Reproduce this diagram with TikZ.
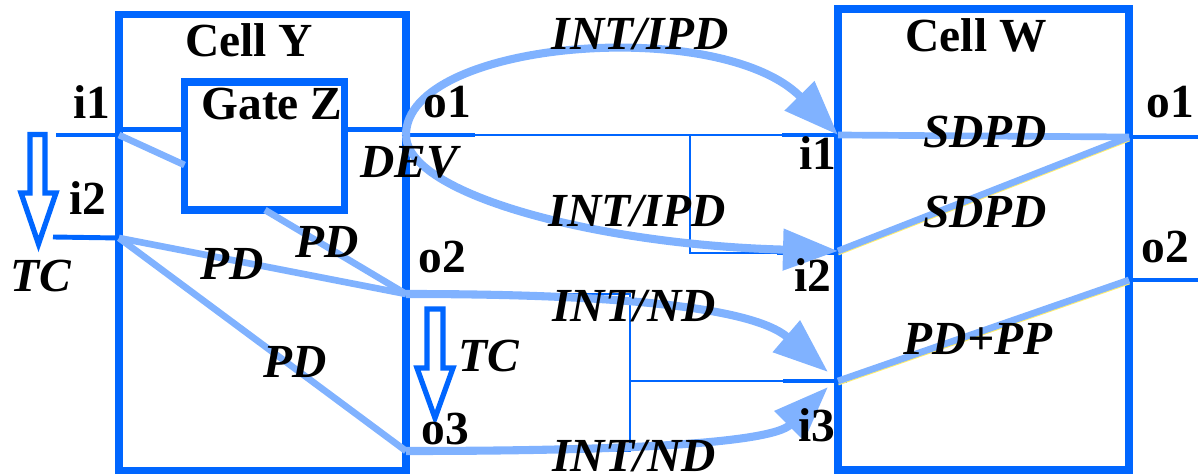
\documentclass[tikz,border=0pt]{standalone}
\usepackage{fontspec}
\setmainfont{Liberation Serif}
\usetikzlibrary{arrows.meta}

\definecolor{pinblue}{RGB}{0,102,255}
\definecolor{pathblue}{RGB}{128,178,255}
\definecolor{glint}{RGB}{255,238,110}

\tikzset{
	pin/.style={line width=1.4pt, color=pinblue},
	net/.style={line width=0.5pt, color=pinblue},
	arc/.style={line width=1.9pt, color=pathblue},
	timing/.style={line width=2.3pt, color=pathblue, -{Triangle[length=5.5mm,width=4mm]}},
	hollow/.style={line width=1.5pt, color=pinblue, fill=white},
	cellname/.style={font=\bfseries\fontsize{13.5}{16}\selectfont, inner sep=0pt, anchor=base},
	delay/.style={font=\bfseries\itshape\fontsize{13.5}{16}\selectfont, inner sep=0pt, anchor=base},
}

\begin{document}
\begin{tikzpicture}[x=1cm, y=-1cm]
	\useasboundingbox (0,0) rectangle (11.98,4.74);

	% pins and branch points
	\coordinate (Yi1) at (1.19,1.35);
	\coordinate (Yi2) at (1.19,2.38);
	\coordinate (Yo1) at (4.06,1.35);
	\coordinate (Yo2) at (4.06,2.94);
	\coordinate (Yo3) at (4.06,4.51);
	\coordinate (Zin) at (1.845,1.295);
	\coordinate (Zout) at (3.445,1.295);
	\coordinate (Zside) at (1.845,1.65);
	\coordinate (Zbot) at (2.65,2.10);
	\coordinate (Wi1) at (8.38,1.35);
	\coordinate (Wi2) at (8.38,2.51);
	\coordinate (Wi3) at (8.38,3.81);
	\coordinate (Wo1) at (11.29,1.37);
	\coordinate (Wo2) at (11.29,2.80);
	\coordinate (tipNDa) at (8.28,3.72);
	\coordinate (tipNDb) at (8.28,3.87);

	% cell Y with gate Z inside
	\draw[line width=2.1pt, color=pinblue] (1.19,0.145) rectangle (4.06,4.71);
	\draw[line width=2pt, color=pinblue] (1.845,0.82) rectangle (3.445,2.10);
	% cell W
	\draw[line width=2.4pt, color=pinblue] (8.38,0.09) rectangle (11.29,4.70);

	% stubs
	\draw[pin] (0.56,1.35) -- (Yi1);
	\draw[pin] (0.53,2.37) -- (Yi2);
	\draw[pin] (Yi1 |- Zin) -- (Zin);
	\draw[pin] (Zout) -- (Yo1 |- Zout);
	\draw[pin] (Yo1) -- (4.75,1.35);
	\draw[pin] (Yo2) -- (4.68,2.94);
	\draw[pin] (Yo3) -- (4.68,4.51);
	\draw[pin] (7.82,1.35) -- (Wi1);
	\draw[pin] (7.77,2.53) -- (8.38,2.53);
	\draw[pin] (7.83,3.81) -- (8.47,3.81);
	\draw[pin] (Wo1) -- (11.98,1.37);
	\draw[pin] (Wo2) -- (11.98,2.80);

	% nets between the cells
	\draw[net] (4.75,1.35) -- (7.82,1.35);
	\draw[net] (6.90,1.35) -- (6.90,2.53) -- (7.77,2.53);
	\draw[net] (4.68,2.94) -- (6.30,2.94) -- (6.30,4.51) -- (4.68,4.51);
	\draw[net] (6.30,3.81) -- (7.83,3.81);

	% delays inside cell Y
	\draw[arc] (Yi1) -- (Zside);
	\draw[arc] (Zbot) -- (Yo2);
	\draw[arc] (Yi2) -- (Yo2);
	\draw[arc] (Yi2) -- (Yo3);

	% interconnect delays
	\draw[timing] (Yo1) .. controls (4.06,0.40) and (7.2,0.15) .. (Wi1);
	\draw[timing] (Yo1) .. controls (4.06,1.95) and (6.0,2.45) .. (Wi2);
	\draw[timing] (Yo2) .. controls (6.0,2.94) and (7.5,3.05) .. (tipNDa);
	\draw[timing] (Yo3) .. controls (6.0,4.51) and (7.7,4.45) .. (tipNDb);

	% delays inside cell W
	\draw[glint, line width=0.5pt, transform canvas={shift={(0.005,0.035)}}] (Wi2) -- (Wo1);
	\draw[glint, line width=0.5pt, transform canvas={shift={(0.005,0.035)}}] (Wi3) -- (Wo2);
	\draw[arc] (Wi1) -- (Wo1);
	\draw[arc] (Wi2) -- (Wo1);
	\draw[arc] (Wi3) -- (Wo2);

	% timing checks
	\draw[hollow] (0.30,1.345) -- (0.45,1.345) -- (0.45,1.93) -- (0.56,1.93)
		-- (0.385,2.44) -- (0.21,1.93) -- (0.30,1.93) -- cycle;
	\draw[hollow] (4.27,3.09) -- (4.43,3.09) -- (4.43,3.68) -- (4.53,3.68)
		-- (4.35,4.18) -- (4.17,3.68) -- (4.27,3.68) -- cycle;

	% names
	\node[cellname] (cellY) at (2.49,0.57) {Cell Y};
	\node[cellname] (gateZ) at (2.72,1.20) {Gate Z};
	\node[cellname] (cellW) at (9.76,0.52) {Cell W};
	\node[cellname] (nYi1) at (0.92,1.19) {i1};
	\node[cellname] (nYi2) at (0.88,2.15) {i2};
	\node[cellname] (nYo1) at (4.47,1.18) {o1};
	\node[cellname] (nYo2) at (4.42,2.73) {o2};
	\node[cellname] (nYo3) at (4.45,4.45) {o3};
	\node[cellname] (nWi1) at (8.18,1.70) {i1};
	\node[cellname] (nWi2) at (8.13,2.92) {i2};
	\node[cellname] (nWi3) at (8.17,4.42) {i3};
	\node[cellname] (nWo1) at (11.70,1.18) {o1};
	\node[cellname] (nWo2) at (11.65,2.63) {o2};

	% delay labels
	\node[delay] (tcL) at (0.41,2.92) {TC};
	\node[delay] (tcR) at (4.89,3.72) {TC};
	\node[delay] (dev) at (4.09,1.78) {DEV};
	\node[delay] (pdZ) at (3.27,2.58) {PD};
	\node[delay] (pdA) at (2.32,2.80) {PD};
	\node[delay] (pdB) at (2.95,3.77) {PD};
	\node[delay] (ipdA) at (6.40,0.50) {INT/IPD};
	\node[delay] (ipdB) at (6.37,2.27) {INT/IPD};
	\node[delay] (ndA) at (6.34,3.22) {INT/ND};
	\node[delay] (ndB) at (6.34,4.71) {INT/ND};
	\node[delay] (sdpdA) at (9.85,1.48) {SDPD};
	\node[delay] (sdpdB) at (9.85,2.28) {SDPD};
	\node[delay] (pdpp) at (9.78,3.55) {PD+PP};
\end{tikzpicture}
\end{document}
